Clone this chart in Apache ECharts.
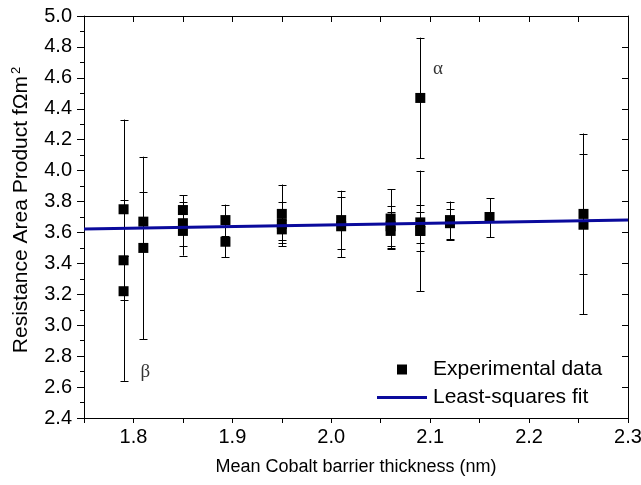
<!DOCTYPE html>
<html>
<head>
<meta charset="utf-8">
<script src="https://cdn.jsdelivr.net/npm/echarts@6/dist/echarts.min.js"></script>
<style>html,body{margin:0;padding:0;background:#fff}#c{width:641px;height:485px}</style>
</head>
<body>
<div id="c"></div>
<script>
// thickness (nm), RA product, lower and upper error-bar ends
const thickness = [1.79,1.79,1.79,1.81,1.81,1.85,1.85,1.85,1.893,1.893,1.95,1.95,1.95,2.01,2.01,2.06,2.06,2.06,2.09,2.09,2.09,2.09,2.12,2.12,2.16,2.255,2.255];
const raValues  = [3.75,3.42,3.22,3.67,3.50,3.745,3.66,3.61,3.68,3.54,3.72,3.655,3.62,3.68,3.64,3.69,3.64,3.61,4.47,3.665,3.61,3.61,3.68,3.66,3.70,3.72,3.65];
const errLow    = [3.45,2.64,3.16,3.48,2.91,3.65,3.51,3.45,3.58,3.44,3.53,3.51,3.55,3.49,3.44,3.50,3.51,3.49,4.08,3.53,3.22,3.48,3.56,3.55,3.57,3.33,3.07];
const errHigh   = [3.81,4.33,3.45,3.86,4.09,3.84,3.80,3.77,3.78,3.64,3.91,3.80,3.68,3.87,3.83,3.88,3.77,3.73,4.86,3.78,4.00,3.73,3.80,3.75,3.82,4.11,4.24];
const fitX = [1.75, 2.3];
const fitY = [3.623, 3.681];
const annotX = [2.108, 1.812];
const annotY = [4.66, 2.70];
const annotText = ['α', 'β'];
const xTickLabels = ['1.8','1.9','2.0','2.1','2.2','2.3'];

const pts = thickness.map((x,i)=>[x, raValues[i]]);
const errs = thickness.map((x,i)=>[x, raValues[i], errLow[i], errHigh[i]]);
const fit = fitX.map((x,i)=>[x, fitY[i]]);
const annots = annotX.map((x,i)=>[x, annotY[i], annotText[i]]);

const font = '"Liberation Sans", Arial, sans-serif';
const fitColor = '#0a0a9c';
const chart = echarts.init(document.getElementById('c'), null, {renderer:'canvas'});
chart.setOption({
  animation: false,
  grid: {left: 84, right: 13, top: 16, bottom: 67, containLabel: false, outerBoundsMode: 'none'},
  legend: [
    {data:[{name:'Experimental data', icon:'rect', itemStyle:{color:'#000'}}], orient:'vertical',
     left: 397, top: 359, padding: 0,
     itemWidth: 10, itemHeight: 10,
     textStyle:{fontFamily: font, fontSize: 21, color:'#000', padding:[0,0,0,21]}},
    {data:[{name:'Least-squares fit', icon:'rect', itemStyle:{color: fitColor}}], orient:'vertical',
     left: 377, top: 387, padding: 0,
     itemWidth: 50, itemHeight: 3,
     textStyle:{fontFamily: font, fontSize: 21, color:'#000', padding:[0,0,0,1]}}
  ],
  xAxis: [
    {type:'value', min:1.75, max:2.3, interval:0.05, position:'bottom',
     name:'Mean Cobalt barrier thickness (nm)', nameLocation:'middle', nameGap: 40,
     nameTextStyle:{fontFamily: font, fontSize: 18, color:'#000'},
     axisLine:{show:true, onZero:false, lineStyle:{color:'#000', width:1}},
     axisTick:{show:true, inside:false, length:5, lineStyle:{color:'#000'}},
     axisLabel:{fontFamily: font, fontSize: 20, color:'#000', margin: 9, hideOverlap:false,
       formatter: v => { const s = v.toFixed(1); return (Math.round(v*100) % 10 === 0 && xTickLabels.indexOf(s) >= 0) ? s : ''; }},
     splitLine:{show:false}},
    {type:'value', min:1.75, max:2.3, interval:0.05, position:'top',
     axisLine:{show:true, onZero:false, lineStyle:{color:'#000', width:1}},
     axisTick:{show:true, inside:true, length:6, lineStyle:{color:'#000'}},
     axisLabel:{show:false}, splitLine:{show:false}}
  ],
  yAxis: [
    {type:'value', min:2.4, max:5.0, interval:0.2, position:'left',
     name:'Resistance Area Product fΩm{sup|2}', nameLocation:'middle', nameGap: 51,
     nameTextStyle:{fontFamily: font, fontSize: 21, color:'#000', padding:[0,0,0,14],
       rich:{sup:{fontFamily: font, fontSize: 13, color:'#000', verticalAlign:'top', padding:[0,0,10,2]}}},
     axisLine:{show:true, onZero:false, lineStyle:{color:'#000', width:1}},
     axisTick:{show:true, inside:false, length:7, lineStyle:{color:'#000'}},
     minorTick:{show:true, splitNumber:2, length:4, lineStyle:{color:'#000'}},
     axisLabel:{fontFamily: font, fontSize: 20, color:'#000', margin: 12, formatter: v => v.toFixed(1)},
     splitLine:{show:false}},
    {type:'value', min:2.4, max:5.0, interval:0.2, position:'right',
     axisLine:{show:true, onZero:false, lineStyle:{color:'#000', width:1}},
     axisTick:{show:true, inside:true, length:6, lineStyle:{color:'#000'}},
     axisLabel:{show:false}, splitLine:{show:false}}
  ],
  series: [
    {type:'custom', name:'errors', data: errs, z: 2, silent: true,
     encode:{x:0, y:[2,3]},
     renderItem: (params, api) => {
       const x = api.value(0);
       const lo = api.coord([x, api.value(2)]);
       const hi = api.coord([x, api.value(3)]);
       const px = Math.round(lo[0]) + 0.5;
       const w = 4;
       const st = {stroke:'#000', lineWidth:1};
       return {type:'group', children:[
         {type:'line', shape:{x1:px, y1:lo[1], x2:px, y2:hi[1]}, style:st},
         {type:'line', shape:{x1:px-w, y1:Math.round(lo[1])+0.5, x2:px+w, y2:Math.round(lo[1])+0.5}, style:st},
         {type:'line', shape:{x1:px-w, y1:Math.round(hi[1])+0.5, x2:px+w, y2:Math.round(hi[1])+0.5}, style:st}
       ]};
     }},
    {type:'scatter', name:'Experimental data', data: pts, symbol:'rect', symbolSize: 10, z: 3,
     itemStyle:{color:'#000', opacity:1}},
    {type:'line', name:'Least-squares fit', data: fit, showSymbol:false, symbol:'none', z: 4,
     lineStyle:{color: fitColor, width:3}, itemStyle:{color: fitColor}},
    {type:'scatter', name:'annotations', data: annots, symbolSize: 0, silent: true, z: 5,
     label:{show:true, position:'inside', formatter: p => p.value[2],
       fontFamily:'"Liberation Serif", "Times New Roman", serif', fontSize: 19, color:'#000'}}
  ]
});
</script>
</body>
</html>
